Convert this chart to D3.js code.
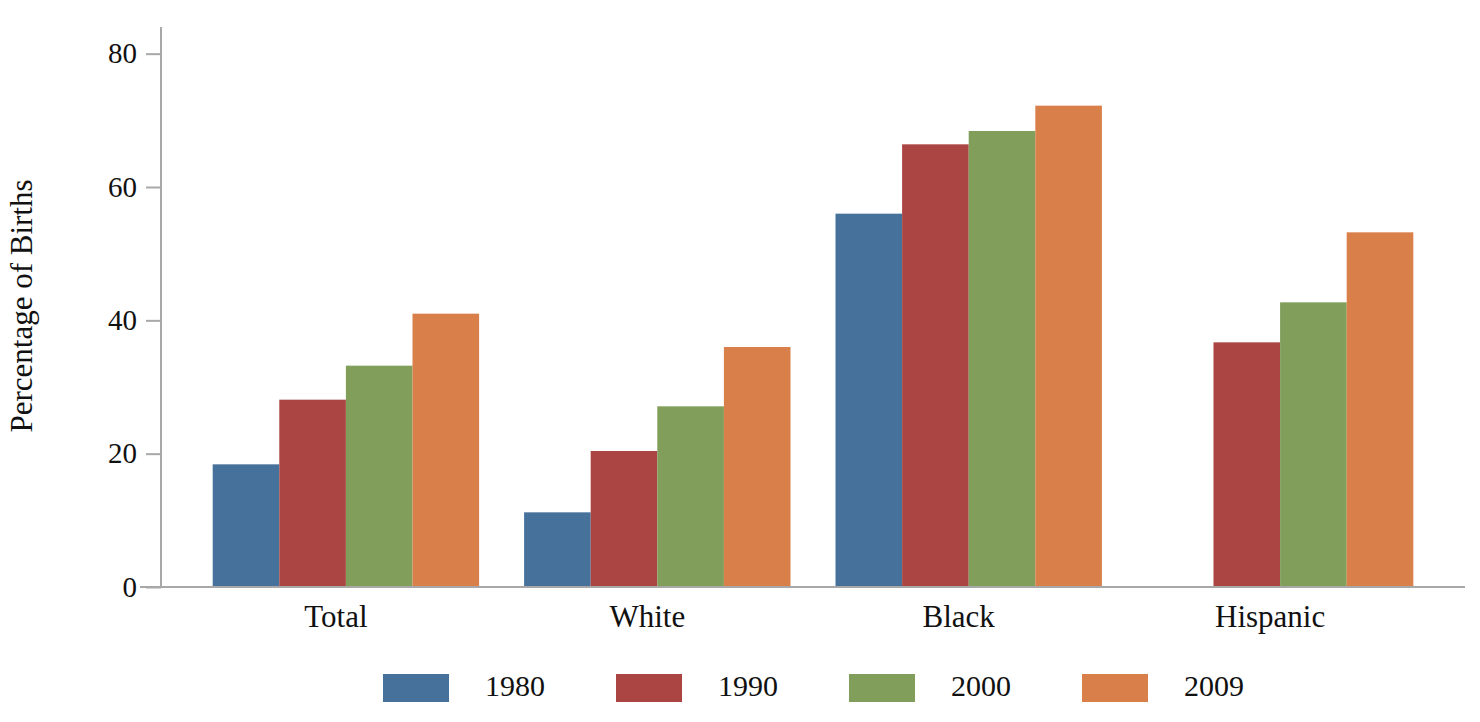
<!DOCTYPE html>
<html>
<head>
<meta charset="utf-8">
<script src="https://cdn.jsdelivr.net/npm/d3@7"></script>
<style>
  html, body { margin: 0; padding: 0; background: #fff; }
  svg { display: block; }
  text { font-family: "Liberation Serif", "DejaVu Serif", serif; fill: #111; }
</style>
</head>
<body>
<svg id="chart" width="1480" height="722"></svg>
<script>
// ---- data ----
const categories = ["Total", "White", "Black", "Hispanic"];
const years = ["1980", "1990", "2000", "2009"];
const v1980 = [18.4, 11.2, 56.0, null];
const v1990 = [28.1, 20.4, 66.4, 36.7];
const v2000 = [33.2, 27.1, 68.4, 42.7];
const v2009 = [41.0, 36.0, 72.2, 53.2];
const yTicks = [0, 20, 40, 60, 80];
const yTitle = "Percentage of Births";

const seriesValues = [v1980, v1990, v2000, v2009];
const colors = ["#46719b", "#ab4543", "#819e5a", "#d97f4a"];
const serif = '"Liberation Serif", "DejaVu Serif", serif';

// ---- layout ----
const svg = d3.select("#chart");
const plotLeft = 161, plotRight = 1465, plotTop = 27, plotBottom = 587;

const x0 = d3.scaleBand().domain(categories).range([plotLeft, plotRight])
  .paddingInner(0.1445).paddingOuter(0.166);
const x1 = d3.scaleBand().domain(years).range([0, x0.bandwidth()]);
const y = d3.scaleLinear().domain([0, 84]).range([plotBottom, plotTop]);
const color = d3.scaleOrdinal().domain(years).range(colors);

// bars
const rows = [];
categories.forEach((c, ci) => {
  years.forEach((yr, yi) => {
    const v = seriesValues[yi][ci];
    if (v !== null && v !== undefined) rows.push({ c, yr, v });
  });
});

svg.append("g").selectAll("rect").data(rows).join("rect")
  .attr("x", d => x0(d.c) + x1(d.yr))
  .attr("y", d => y(d.v))
  .attr("width", x1.bandwidth())
  .attr("height", d => y(0) - y(d.v))
  .attr("fill", d => color(d.yr));

// y axis
const axisColor = "#a8a8a8";
const yAxis = svg.append("g").attr("transform", `translate(${plotLeft},0)`)
  .call(d3.axisLeft(y).tickValues(yTicks).tickSize(15).tickPadding(9).tickSizeOuter(0));
yAxis.attr("font-family", serif);
yAxis.select(".domain").attr("stroke", axisColor).attr("stroke-width", 2)
  .attr("d", `M0,${plotTop}V${plotBottom}`);
yAxis.selectAll(".tick line").attr("stroke", axisColor).attr("stroke-width", 2);
yAxis.selectAll(".tick text")
  .attr("font-family", serif).style("font-family", serif)
  .style("font-size", "29px").attr("fill", "#111");

// x axis
const xAxis = svg.append("g").attr("transform", `translate(0,${plotBottom})`)
  .call(d3.axisBottom(x0).tickSize(0).tickPadding(18));
xAxis.attr("font-family", serif);
xAxis.select(".domain").attr("stroke", axisColor).attr("stroke-width", 2)
  .attr("d", `M${plotLeft - 21},0H${plotRight}`);
xAxis.selectAll(".tick text")
  .attr("font-family", serif).style("font-family", serif)
  .attr("dx", -10)
  .style("font-size", "31px").attr("fill", "#111");

// y title
svg.append("text")
  .attr("transform", `translate(32,306) rotate(-90)`)
  .attr("text-anchor", "middle")
  .style("font-family", serif)
  .style("font-size", "31px")
  .text(yTitle);

// legend
const legendX = d3.scalePoint().domain(years).range([383, 1082]);
const lg = svg.append("g").selectAll("g").data(years).join("g")
  .attr("transform", d => `translate(${legendX(d)},674)`);
lg.append("rect").attr("width", 66).attr("height", 28).attr("fill", d => color(d));
lg.append("text").attr("x", 102).attr("y", 22)
  .style("font-family", serif)
  .style("font-size", "30px").text(d => d);
</script>
</body>
</html>
